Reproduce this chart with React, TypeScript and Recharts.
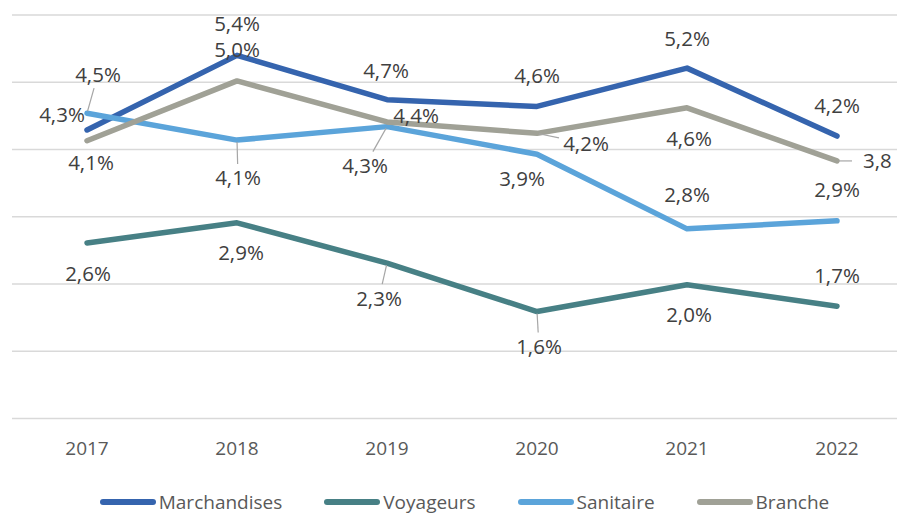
import { CartesianGrid, LabelList, Line, LineChart, XAxis, YAxis } from "recharts";

const years = ["2017", "2018", "2019", "2020", "2021", "2022"];
const marchandises = [4.29, 5.4, 4.74, 4.64, 5.21, 4.2];
const voyageurs = [2.61, 2.91, 2.31, 1.59, 1.99, 1.67];
const sanitaire = [4.54, 4.14, 4.34, 3.93, 2.82, 2.94];
const branche = [4.13, 5.02, 4.41, 4.24, 4.62, 3.83];

const data = years.map((year, i) => ({
  year,
  marchandises: marchandises[i],
  voyageurs: voyageurs[i],
  sanitaire: sanitaire[i],
  branche: branche[i],
}));

const FONT = "'Open Sans', 'Noto Sans', sans-serif";

const series = [
  { key: "marchandises", name: "Marchandises", color: "#3564AE" },
  { key: "voyageurs", name: "Voyageurs", color: "#478085" },
  { key: "sanitaire", name: "Sanitaire", color: "#5BA4DA" },
  { key: "branche", name: "Branche", color: "#A0A196" },
];

// label placement: [dx, dy, leader line, truncated]
type Place = [number, number, boolean?, boolean?];
const labelPlace: Record<string, Place[]> = {
  marchandises: [[-25, -15], [0, -32], [-1, -29], [0, -31], [0, -30], [0, -30]],
  voyageurs: [[1, 31], [4, 30], [-8, 35, true], [2, 35, true], [2, 30], [0, -31]],
  sanitaire: [[11, -39, true], [1, 38, true], [-22, 39, true], [-15, 24], [0, -34], [0, -31]],
  branche: [[4, 22], [0, -31], [29, -6], [49, 10, true], [2, 31], [42, 0, true, true]],
};

function makeLabel(key: string) {
  return (props: any) => {
    const { x, y, value, index } = props;
    if (x == null || y == null || value == null) return null;
    const [dx, dy, leader, cut] = labelPlace[key][index] || [0, -30];
    const cx = x + dx;
    const cy = y + dy;
    const text = value.toFixed(1).replace(".", ",") + (cut ? "" : "%");
    let line = null;
    if (leader) {
      const px = x - cx;
      const py = y - cy;
      const s = Math.min(
        px === 0 ? Infinity : 27 / Math.abs(px),
        py === 0 ? Infinity : 14 / Math.abs(py)
      );
      const len = Math.hypot(px, py);
      const ex = cx + px * s;
      const ey = cy + py * s;
      const sx = x - (px / len) * 2;
      const sy = y - (py / len) * 2;
      line = <line x1={sx} y1={sy} x2={ex} y2={ey} stroke="#A6A6A6" strokeWidth={1.2} />;
    }
    return (
      <g>
        {line}
        <text
          x={cut ? cx - 16 : cx}
          y={cy}
          dy="0.36em"
          textAnchor={cut ? "start" : "middle"}
          fill="#404040"
          fontSize={20.5}
          fontFamily={FONT}
        >
          {text}
        </text>
      </g>
    );
  };
}

function LegendRow() {
  return (
    <div
      style={{
        position: "absolute",
        top: 492,
        left: 8,
        width: 913,
        display: "flex",
        justifyContent: "center",
        alignItems: "center",
        gap: 42,
        fontFamily: FONT,
        fontSize: 19,
        color: "#595959",
        whiteSpace: "nowrap",
      }}
    >
      {series.map((s) => (
        <div key={s.key} style={{ display: "flex", alignItems: "center" }}>
          <span
            style={{
              display: "inline-block",
              width: 56,
              height: 6,
              borderRadius: 3,
              background: s.color,
              marginRight: 3,
            }}
          />
          <span style={{ lineHeight: "20px" }}>{s.name}</span>
        </div>
      ))}
    </div>
  );
}

export default function App() {
  return (
    <div
      style={{
        position: "fixed",
        top: 0,
        left: 0,
        width: 897,
        height: 513,
        overflow: "hidden",
        background: "#fff",
      }}
    >
      <div style={{ position: "absolute", top: 8, left: 8 }}>
        <LineChart
          width={904}
          height={470}
          data={data}
          margin={{ top: 7, right: 0, bottom: 29.5, left: 4 }}
        >
          <CartesianGrid vertical={false} stroke="#D9D9D9" strokeWidth={1.5} />
          <XAxis
            dataKey="year"
            axisLine={false}
            tickLine={false}
            tickSize={0}
            tickMargin={23}
            height={30}
            padding={{ left: 75, right: 75 }}
            tick={{ fill: "#595959", fontSize: 19, fontFamily: FONT }}
            interval={0}
          />
          <YAxis hide domain={[0, 6]} ticks={[0, 1, 2, 3, 4, 5, 6]} />
          {series.map((s) => (
            <Line
              key={s.key}
              type="linear"
              dataKey={s.key}
              name={s.name}
              stroke={s.color}
              strokeWidth={5.5}
              strokeLinecap="round"
              strokeLinejoin="round"
              dot={false}
              activeDot={false}
              isAnimationActive={false}
            >
              <LabelList dataKey={s.key} content={makeLabel(s.key)} />
            </Line>
          ))}
        </LineChart>
      </div>
      <LegendRow />
    </div>
  );
}
